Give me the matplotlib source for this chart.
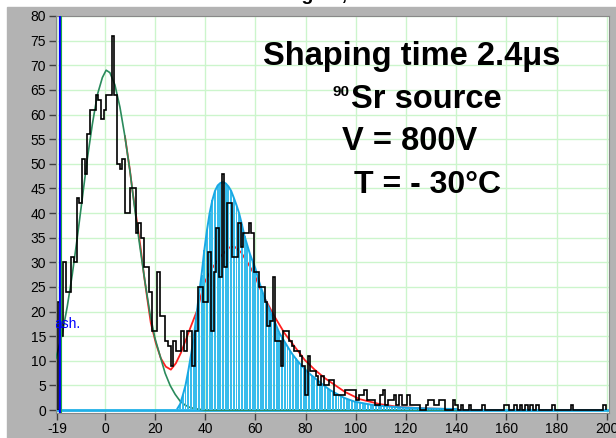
import matplotlib.pyplot as plt
import numpy as np
from matplotlib.patches import Rectangle

plt.rcParams['font.family'] = ['Liberation Sans', 'DejaVu Sans']
plt.rcParams['axes.unicode_minus'] = False

# pulse height spectrum (counts per bin), bins of equal width
bin_start = -18.7
bin_width = 1.07
counts = [
    22, 15, 30, 24, 24, 31, 30, 43, 42, 51,
    48, 56, 61, 61, 64, 63, 59, 61, 64, 64,
    76, 64, 50, 49, 51, 40, 40, 45, 45, 36,
    38, 35, 29, 29, 24, 16, 16, 28, 19, 19,
    14, 13, 9, 14, 12, 12, 16, 12, 16, 16,
    9, 16, 25, 25, 22, 22, 32, 16, 28, 37,
    27, 48, 29, 42, 42, 31, 31, 38, 33, 36,
    36, 38, 36, 28, 28, 25, 25, 22, 17, 18,
    27, 14, 14, 9, 16, 16, 14, 13, 12, 12,
    11, 9, 3, 11, 8, 8, 7, 5, 7, 5,
    5, 6, 6, 3, 3, 3, 3, 4, 4, 4,
    4, 2, 3, 3, 4, 2, 2, 2, 1, 1,
    3, 4, 1, 2, 2, 3, 1, 3, 1, 1,
    3, 1, 1, 1, 1, 0, 0, 1, 2, 2,
    1, 1, 2, 2, 0, 0, 0, 2, 1, 0,
    1, 0, 0, 1, 0, 0, 0, 0, 1, 0,
    0, 0, 0, 0, 0, 0, 1, 1, 0, 0,
    1, 0, 1, 0, 1, 0, 1, 0, 1, 0,
    0, 0, 0, 0, 1, 0, 0, 0, 0, 0,
    0, 1, 0, 0, 0, 0, 0, 0, 0, 0,
    0, 0, 0, 1,
]

# Landau component of the fit, one value per bin from landau_first_bin on
landau_first_bin = 44
landau_fit = [
    0.3, 1.2, 3, 5, 7.8, 11, 14.5, 18.8, 23.4, 27.5,
    32.4, 36.5, 40, 42.6, 44.5, 45.6, 46.1, 46.3, 46.0, 45.4,
    44.5, 43.1, 41.6, 39.9, 37.7, 35.3, 33.5, 31.7, 30.2, 28.8,
    26.8, 25.1, 23.5, 22.0, 20.8, 19.5, 18.3, 16.9, 15.6, 14.7,
    13.8, 12.9, 12.0, 11.2, 10.5, 9.8, 9.2, 8.6, 8.0, 7.5,
    7.0, 6.6, 6.1, 5.7, 5.2, 4.8, 4.4, 4.0, 3.7, 3.4,
    3.1, 2.8, 2.5, 2.3, 2.1, 1.9, 1.7, 1.6, 1.5, 1.4,
    1.3, 1.2, 1.1, 1.0, 0.95, 0.9, 0.85,
    0.8, 0.75, 0.7, 0.66, 0.62, 0.58, 0.55, 0.52, 0.49, 0.46,
    0.44, 0.42, 0.4, 0.38, 0.36, 0.34, 0.32, 0.3, 0.29, 0.28,
    0.27, 0.26, 0.25, 0.24, 0.23, 0.22, 0.21, 0.2,
]

# pedestal (noise) gaussian
gauss_x = [-19.5, -17, -15, -13, -11, -9, -7, -5, -3, -1, 0.5, 2, 4, 6, 8,
           10, 12, 14, 16, 18, 20, 22, 24, 26, 28, 30, 32, 34, 37, 40, 140]
gauss_y = [10.5, 15.5, 21, 27.5, 35, 43, 51, 58, 64, 67.5, 69, 68.5, 66, 61.5,
           55.5, 48.5, 40.5, 33, 26, 19.5, 14.5, 11, 7.5, 5, 3.2, 1.8, 1, 0.5,
           0.2, 0, 0]

# total fit (gaussian + landau)
total_x = [8, 10, 11, 13, 14.3, 15.6, 16.9, 18.3, 20.3, 22.3, 24.3, 26.3, 28.3,
           30.3, 32.3, 34.3, 36.9, 39.6, 42.9, 46.3, 49.6, 51.6, 54.3, 56.9,
           59.6, 61.6, 63.6, 67.6, 71.6, 75.6, 79.6, 83.6, 87.6, 91.6, 95.6,
           101.6, 109.6, 117.6, 127, 137, 140]
total_y = [55.6, 48.6, 44.5, 37.5, 32.7, 27.3, 22.6, 17.7, 13.6, 10.5, 8.8,
           8.2, 9.5, 11.6, 14.3, 17, 20.4, 25.8, 28.9, 31.3, 33, 33.2, 32,
           29.9, 27.5, 25, 22.8, 19, 15.6, 12.9, 10.2, 8.2, 6.5, 5.1, 3.7,
           2.2, 1.2, 0.6, 0.35, 0.2, 0.15]

threshold = -17.9
xticks = [-19, 0, 20, 40, 60, 80, 100, 120, 140, 160, 180, 200]
yticks = list(range(0, 81, 5))

W, H = 616, 438
fig = plt.figure(figsize=(W / 100, H / 100), dpi=100, facecolor='white')
fig.patches.append(Rectangle((7 / W, 0), 1, 1 - 7 / H, transform=fig.transFigure,
                             color='#b3b3b3', zorder=-10))

ax = fig.add_axes([55.7 / W, 25.5 / H, 553 / W, 397 / H])
ax.set_facecolor('white')

edges = bin_start + bin_width * np.arange(len(counts) + 1)
centers = edges[:-1] + bin_width / 2
lx = centers[landau_first_bin:landau_first_bin + len(landau_fit)]

ax.plot(total_x, total_y, color='#ff2020', lw=1.3, zorder=2)
ax.axhline(0, color='#20b0e8', lw=2, zorder=2)
ax.plot(gauss_x, gauss_y, color='#2a8a5c', lw=1.2, zorder=3)
ax.bar(lx, landau_fit, width=bin_width * 0.72, color='#38bcec', zorder=4)
ax.plot(lx, landau_fit, color='#18a8e4', lw=1.4, zorder=4)
ax.stairs(counts, edges, color='black', lw=1.2, zorder=5)
ax.axvline(threshold, color='#0000ff', lw=1.6, zorder=6)
ax.axvline(threshold + 0.6, color='#22aa44', lw=0.8, zorder=6)
# threshold cursor label, its left part runs under the plot border
ax.text(-20.1, 17.5, 'ash.', color='#0000ff', ha='left', va='center',
        fontsize=10, clip_on=True, zorder=7)

ax.set_xlim(-19.6, 200.8)
ax.set_ylim(-0.5, 80.1)
ax.set_xticks(xticks)
ax.set_yticks(yticks)
ax.grid(color='#ccf5cc', lw=1)
ax.set_axisbelow(True)
ax.tick_params(direction='out', length=5, width=1, color='#404040',
               labelsize=10, pad=2)
for s in ax.spines.values():
    s.set_color('#888888')

def px(x, y):
    return x / W, 1 - y / H

big = dict(fontsize=23.5, fontweight='bold', color='black', va='center',
           zorder=10)
fig.text(*px(412, 57), 'Shaping time 2.4\u03bcs', ha='center', **big)
fig.text(*px(341, 92), '90', ha='center', va='center', fontsize=11,
         fontweight='bold', zorder=10)
fig.text(*px(351, 100), 'Sr source', ha='left', **big)
fig.text(*px(410, 142), 'V = 800V', ha='center', **big)
fig.text(*px(427, 185), 'T = - 30\u00b0C', ha='center', fontsize=23,
         fontweight='bold', color='black', va='center', zorder=10)

# heading above the panel, mostly outside the figure
fig.text(283.6 / W, 1.0, 'Signal,', ha='left', va='baseline', fontsize=14,
         fontweight='bold')

fig.savefig('out.png', dpi=100, facecolor=fig.get_facecolor())
